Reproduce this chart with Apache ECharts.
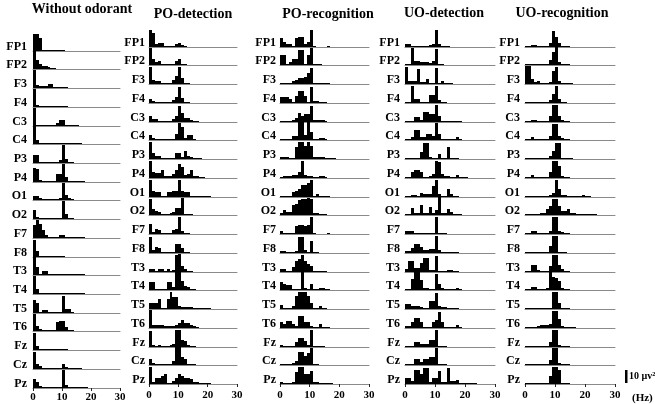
<!DOCTYPE html>
<html><head><meta charset="utf-8">
<script src="https://cdn.jsdelivr.net/npm/echarts@6/dist/echarts.min.js"></script>
<style>html,body{margin:0;padding:0;background:#fff}#c{width:655px;height:404px}</style>
</head><body><div id="c"></div>
<script>
const channels = ['FP1','FP2','F3','F4','C3','C4','P3','P4','O1','O2','F7','F8','T3','T4','T5','T6','Fz','Cz','Pz'];
const panelTitles = ['Without odorant','PO-detection','PO-recognition','UO-detection','UO-recognition'];
const xTicks = [0, 10, 20, 30];
const scaleBarValue = 10; // µV²

// power per 1-Hz bin (µV²), rows in channel order
const withoutOdorant = [
 [13,13,10,0.5,0.3,1,1,1,0.3,0.7,0.5],
 [13.5,7,4,2.5,2,1.2,1,0.3],
 [14,2,1.5,1.5,1.5,3,3,1,0.5,0.5,0.5,0.3],
 [14,1.5,0.5,0.3,0.3,0.3,0.3,0.3,0.3,0.8,0.8,0.3],
 [14,1,0.5,0.5,0.5,0.5,0.5,0.5,2.5,4.5,5,1,0.5,0.5,0.5,0.3],
 [14,3,0.3,0.5,0.3,0.3,0.3,0.3,1,1,1,1,0.5,0.3,0.3,1,0.3],
 [6.5,6.5,1,0.5,0.5,0.3,0.3,0.3,1,2,14,3,1,0.3],
 [11,10,1.5,1,0.5,0.5,0.5,0.5,6,6,13.5,3.5,1,0.5,0.5,0.5,0.5,0.5],
 [3,3,1.5,0.5,0.5,0.5,1,0.5,0.5,1.5,13,4,1.5,0.3],
 [7,1.5,1,0.5,0.5,0.5,0.3,0.3,0.5,1,13.5,4,1,0.3],
 [10,14,11,6,2,1,0.7,0.5,0.5,2.5,2,0.5,0.3,0.3,0.3,1,0.5,0.3],
 [13,5,1,0.5,0.3,0.3,0.3,0.3,0.5,0.5,0.3],
 [14,6,0.5,3,3,1,0.5,0.3,0.3,0.3,0.3,0.5,0.3,0.3,0.3,0.3,0.5,0.5],
 [13.5,4,0.5,0.5,0.5,0.3,0.3,0.3,0.3,0.5,0.3,0.3,0.3,0.3,0.3,0.5,0.5,0.3],
 [10,8,0.5,2.5,2,0.5,0.5,0.5,0.5,1,13,3,3,0.3],
 [13,4,1.5,0.5,0.5,1,1,1,7,7.5,7.5,3,1,0.5],
 [13,3,0.7,0.5,0.5,0.5,0.5,0.5,0.5,0.5,0.5,0.3],
 [13,4,2,0.5,0.3,0.3,0.3,0.3,0.5,0.5,4,1.5,1,1,1,0.5,0.3],
 [7,5,1.5,0.5,0.5,0.5,0.5,0.5,1,1,13.5,2.5,1,0.5,0.5,0.5,0.5,0.5,0.3]
];
const poDetection = [
 [13,11,2,3,3,0.5,0.5,1,1,2,3,1.5,0.5],
 [13,5,2,3,0.5,0.5,0.5,0.5,0.5,3,5,1,0.3],
 [13,3,2.5,2,0.5,0.5,0.5,0.5,3,6.5,13,5,1,0.3],
 [3,1.5,1,1,1,0.5,1,1,2,4.5,12.5,3.5,1,0.5],
 [4.5,2.5,2,0.5,0.5,0.5,0.5,0.5,2,4.5,12.5,7,3,3,1.5,1,0.5],
 [4,1.5,0.5,0.5,0.5,0.7,0.7,0.7,1,5,13,10,1.5,3.5,4,0.3],
 [13,5,2.5,2,0.5,0.5,0.7,0.7,0.7,4.5,4.5,1.5,6.5,2,1.5,0.7,0.5,0.3],
 [13,5,4,3.5,6.5,1.5,1.5,1.5,3,6.5,11,8.5,2,3,6,1.5,1.5,0.5,0.5],
 [13,5,4,4,1,1,4,4,5,5,13,5,4,4,1,1,1,0.5,0.5,0.3,0.5],
 [12,5,3,2,1,1,1,1.5,2,5.5,5.5,13.3,1,0.5,0.3],
 [8,1.5,3.5,3,1,1,1,1,3,4,13.3,2,1,0.3],
 [12.5,2,5,4,1,1,1,1,1,7,7,4,1,0.3],
 [2.5,2.5,1,2.5,2.5,1,2.5,1,1.5,13,14,5,2,1,0.5],
 [6,6,1,1,1,1,6,6,2,14,14,7,3.3,2,1,0.5],
 [5,4.5,4.5,7.7,1,1,7.7,13,9,9,2.6,1.5,1.5,1.3,1.3,0.5,0.5,0.5,0.5,0.5,0.5],
 [13.5,2.5,2,2,2,1.5,1.5,1.5,1.5,2,4,6.4,4,3.8,2,1.5,0.3],
 [12,1.5,1,1.5,1,1,1,1.5,2,12.8,12.8,5.6,4.4,1.5,1,0.3],
 [4.6,1.5,1,1,1,1,1,1,3.3,13.6,13.6,6,4.6,1,1,0.3],
 [13.3,1.5,5,5,6.4,7.7,1,1,2,5,7.7,6.4,5,5,4,1.5,1.5,1,0.5,0.5,0.3]
];
const poRecognition = [
 [6.7,4,2.5,2.5,1,6.7,7.7,7.7,2.5,4,12.8,0.5,0,0,0,0,1],
 [7.7,7.7,0.5,2.5,5,5,11.5,11.5,1,7.7,13.3,1,1,0.3],
 [1,1,0.5,0.5,2.5,3.3,4.6,4.6,5.6,8.2,12,1,0.5,0.3,0.3,1,0.3],
 [4.4,4.4,4.4,2.8,0.5,5.6,9.5,9.5,5.6,1,12.6,1.5,1.5,1,1,0.3],
 [1,1,1,1,1.5,3,7,4.4,6.2,6.2,12,1.5,1.5,1.5,1.5,0.3],
 [1,1,1,1,3,3,14,14,4,14,6,1,0.5,1.5,1.5,0.3],
 [1.8,1.5,1.5,0.5,0.5,9.5,13.3,13.3,10,13.3,10,1.5,1.5,1.5,1.5,0.5,0.5,0.5,0.3],
 [1,1.5,1.5,1.5,2,2.3,5,13,2,1.5,1.5,1,1,1.5,1.5,0.3],
 [1,1,1,1,3.8,4.4,6.4,9,9,10.7,12.8,1,2.6,0.5,0.5,0.5,0.3],
 [1.8,3.6,2.3,2.3,7.4,8.2,11.3,12,12,13.3,12,1.8,1.8,0.5,0.5,0.3],
 [2.6,0.5,0.5,0.5,1,6,7,7,6,7,12.8,0.5,0,0,0,0,1],
 [1.5,1.5,0.5,0.5,0.5,1.5,12.5,12.5,2,1,9.5,0.5,0.3],
 [2.5,2.5,0.5,0.5,3.8,8.2,10,13,8.2,6.4,5,0.5,0.5,0.5,0.5,0.3],
 [6,4.6,3.8,3.8,1,1,1,13.6,1.5,1,4.6,1,1,1.5,1.5,1,0.3],
 [3,1,1,1,2.6,10,13.3,13.3,13.3,10,5,1,1,2.6,0.5,0.3],
 [4.4,3,5.6,5.6,3,1.5,9.5,9.5,5,4.4,1.5,1,1,3.3,1,0.5,0.3],
 [1.8,1,0.5,0.5,0.5,3.6,7,7,4.4,1.5,13.3,0.5,0.3,0.5,0.3],
 [0.5,0.5,0.5,0.5,1.5,3.3,10,10,7,9,12.8,0.5,0.3],
 [1.8,1,1,1,1.5,9,12.8,12.8,7.7,7.7,10,1.8,1.8,1,1,1,0.5,0.3]
];
const uoDetection = [
 [2.6,2.6,1,1,0.5,0.5,1,1,1.5,2,13.3,2.5,1,0.5,0.3],
 [1,1,13,3.3,3,2.5,2.5,2,1.5,3,12,1,0.3],
 [13.3,2,2,2,11.5,1.5,1.5,3.6,1,1,12,1,2.3,1,0.5,0.3],
 [1,1,12.8,3.3,3.3,1,1,1,6,6,12.8,2,0.5,0.3],
 [0.5,0.5,0.5,3.6,3.6,1.5,7.4,7.4,6,6,13.3,5,1,0.3,0.3,0.5,0.3,0.5,0.5],
 [1,1,2,7.7,7.7,2,2,5,5,3,13,5,1,0.5,0.3,0.3,0.3,2,0.5],
 [0.5,0.5,1,1,1,5.4,12,12,1.5,1,1,3.6,1,1,9,1,0.5,0.3],
 [1,1,5,6.2,6.2,5,1,1,1.5,3,13.3,12,3,1.5,1.5,1,1,2.6,1,1,0.3],
 [1,1,1.5,1.5,1,3.3,2,2,2,8.5,12.8,2,1,1,6,2,0.5,0.3],
 [1,1,5.6,1.5,1.5,7.4,1.5,1.5,6,1.5,4,13.8,1.5,1.5,5,2,1,1,0.5],
 [2.6,2.6,2.6,0.5,0.5,0.5,1,1,0.5,0.5,13,1,0.5,0.3],
 [1.5,1.5,4,7.2,7.2,4.6,2,2,3,3,13,2.5,1,0.5,0.5,0.5,0.5,0.3],
 [2,8.2,8.2,3,3,7,10.7,10.7,1.5,1.5,12,1,0.5,0.5,1.8,1.8,1,0.3],
 [1,1,8.5,13.6,13.6,7.7,1.5,1.5,1,1,12.3,4.6,1.5,0.5,0.5,0.5,0.5,1.5,0.5],
 [3.6,3.6,2.5,2.5,2,1.5,1,1,6,6,12.5,2,1.5,1.5,1,1,0.5,0.3],
 [1.5,1.5,5,7.7,7.7,5,1,1,1,5,6,12.3,5,1,1,1,0.5,2.6,0.5],
 [1,1,1,4,4,2,2.5,2.5,5.4,5.4,13,1,0.5,0.3],
 [1,1,1,4.4,4.4,2,4.4,4.4,6.2,6.2,13.3,1,0.5,0.3],
 [4.6,4.6,2,11,11,7.7,12.3,12.3,1.5,5,5,9.7,1.5,1.5,12.3,2,2,3.3,0.5,0.5,0.5,0.5,0.5,0.3]
];
const uoRecognition = [
 [1,1,1.5,1.5,1,0.5,0.5,0.5,3,12.5,8,3,1,0.5,0.3],
 [0.5,0.5,0.3,0.3,0.3,0.3,0.3,0.5,4,10,13.6,2,1,0.5,0.3],
 [13.6,13.6,4,1.5,2.6,1,1,1,1.5,10,13.3,2,1,1,0.5,0.3],
 [0.5,0.5,0.5,1,1,0.5,0.5,1,2,6.7,13,3.3,0.5,0.3],
 [0.5,0.5,1.5,1.5,1,0.5,0.5,0.5,4.4,12.8,12.8,4.4,1.5,1,0.3],
 [1,1,2,0.5,0.5,0.5,0.5,0.5,3.3,12.3,12.3,3.3,1.5,1,0.3],
 [0.5,0.5,0.5,0.5,0.5,0.5,0.5,1,2.5,6,12.5,12.5,1,0.5,0.5,0.3],
 [1,1,2.6,1,1,0.5,0.5,1,4.4,12.8,12.8,9,1.5,0.5,0.3],
 [0.5,0.5,0.5,1,1,0.5,0.5,1,1.5,3,13,6,1.5,1.5,1,0.5,0.5,0.5,0.5,1.5,0.5,0.3],
 [1,1,1,1,1,1.5,1.5,4.6,7.2,12.3,12.3,7.2,3.3,3.3,4.6,1.5,1.5,1,1,1,1,0.5,0.5,0.3],
 [0.5,0.5,2.6,2.6,0.5,0.5,0.5,1,2,13,13,2,1.5,1,0.3],
 [0.5,0.5,0.5,0.5,0.5,0.5,0.5,0.5,5.4,13,13,1,0.5,0.3],
 [1,1,5.6,5.6,1.5,1,1,1,4.4,13.3,13.3,5.6,2,1,0.3],
 [1,1,2.6,2.6,1,1,1,1.5,13.6,9.7,9,7.2,1.5,1,0.3],
 [0.3,0.3,0.3,0.3,0.3,1,1,0.5,0.5,13.3,13.3,5,1,0.5,0.3],
 [0.3,0.3,0.5,1,1.5,2,2,2.5,3,12.8,12.8,7.2,1.5,0.5,0.5,0.5,0.3],
 [0.5,0.5,1,1,1,0.5,0.5,0.5,3.6,13,13,1.5,1,0.5,0.3],
 [1,1,1,1,1,0.5,0.5,0.5,3.6,13.3,13.3,1.5,1,0.5,0.3],
 [1,1,1,1,1,0.5,0.5,0.5,6,13,13,11,1,0.5,0.3]
];
const panelData = [withoutOdorant, poDetection, poRecognition, uoDetection, uoRecognition];

// layout (pixels)
const layout = [
 {x0:33,  x1:120, base:50.7, step:18.72, labelRight:27,  tx:82,  ty:9,  lm:4},
 {x0:149, x1:237, base:46.5, step:18.75, labelRight:145, tx:193, ty:14, lm:6},
 {x0:280, x1:369, base:46.5, step:18.75, labelRight:276, tx:328, ty:14, lm:6},
 {x0:405, x1:495, base:46.5, step:18.75, labelRight:400, tx:444, ty:13, lm:6},
 {x0:525, x1:615, base:46.5, step:18.75, labelRight:520, tx:562, ty:13, lm:6}
];
const ROW_H = 18, PX_PER_UNIT = 1.3;
const SERIF = '"Liberation Serif","Times New Roman",serif';

const grid = [], xAxis = [], yAxis = [], series = [], graphic = [];
let gi = 0;
panelData.forEach((rows, p) => {
  const L = layout[p];
  graphic.push({type:'text', style:{text:panelTitles[p], x:L.tx, y:L.ty, align:'center', verticalAlign:'middle',
    textAlign:'center', textVerticalAlign:'middle', font:'bold 14px ' + SERIF, fill:'#000'}});
  rows.forEach((vals, r) => {
    const base = Math.round(L.base + r * L.step);
    const last = r === rows.length - 1;
    grid.push({left:L.x0, top:base - ROW_H, width:L.x1 - L.x0, height:ROW_H});
    xAxis.push({gridIndex:gi, type:'value', min:xTicks[0], max:xTicks[xTicks.length-1], interval:10,
      axisLine:{show:true, lineStyle:{color:'#8a8a8a', width:1}},
      axisTick:{show:last, length:3, lineStyle:{color:'#222'}},
      axisLabel:{show:last, margin:L.lm, fontFamily:SERIF, fontWeight:'bold', fontSize:11, color:'#000'},
      splitLine:{show:false}});
    yAxis.push({gridIndex:gi, type:'value', min:0, max:ROW_H / PX_PER_UNIT, show:false});
    series.push({type:'custom', xAxisIndex:gi, yAxisIndex:gi, silent:true, clip:false,
      data: vals.map((v, i) => [i, v]),
      encode:{x:0, y:1},
      renderItem:(params, api) => {
        const x = api.value(0), v = api.value(1);
        if (!v) return null;
        const a = api.coord([x, 0]), b = api.coord([x + 1, v]);
        const xl = Math.round(a[0]), xr = Math.round(b[0]);
        const yb = Math.round(a[1]), yt = Math.min(Math.round(b[1]), yb - 1);
        return {type:'rect', shape:{x:xl, y:yt, width:xr - xl, height:yb - yt}, style:{fill:'#000'}};
      }});
    graphic.push({type:'text', style:{text:channels[r], x:L.labelRight, y:base - 4, align:'right', verticalAlign:'middle',
      textAlign:'right', textVerticalAlign:'middle', font:'bold 12px ' + SERIF, fill:'#000'}});
    gi++;
  });
});
// scale bar
const sbH = scaleBarValue * PX_PER_UNIT;
graphic.push({type:'rect', shape:{x:625, y:383 - sbH, width:2.5, height:sbH}, style:{fill:'#000'}});
graphic.push({type:'text', style:{text:'10 µv²', x:629, y:376, align:'left', verticalAlign:'middle',
  textAlign:'left', textVerticalAlign:'middle', font:'bold 10px ' + SERIF, fill:'#000'}});
graphic.push({type:'text', style:{text:'(Hz)', x:632, y:398, align:'left', verticalAlign:'middle',
  textAlign:'left', textVerticalAlign:'middle', font:'bold 11px ' + SERIF, fill:'#000'}});

const chart = echarts.init(document.getElementById('c'), null, {renderer:'canvas'});
chart.setOption({animation:false, backgroundColor:'#fff', grid, xAxis, yAxis, series, graphic});
</script></body></html>
